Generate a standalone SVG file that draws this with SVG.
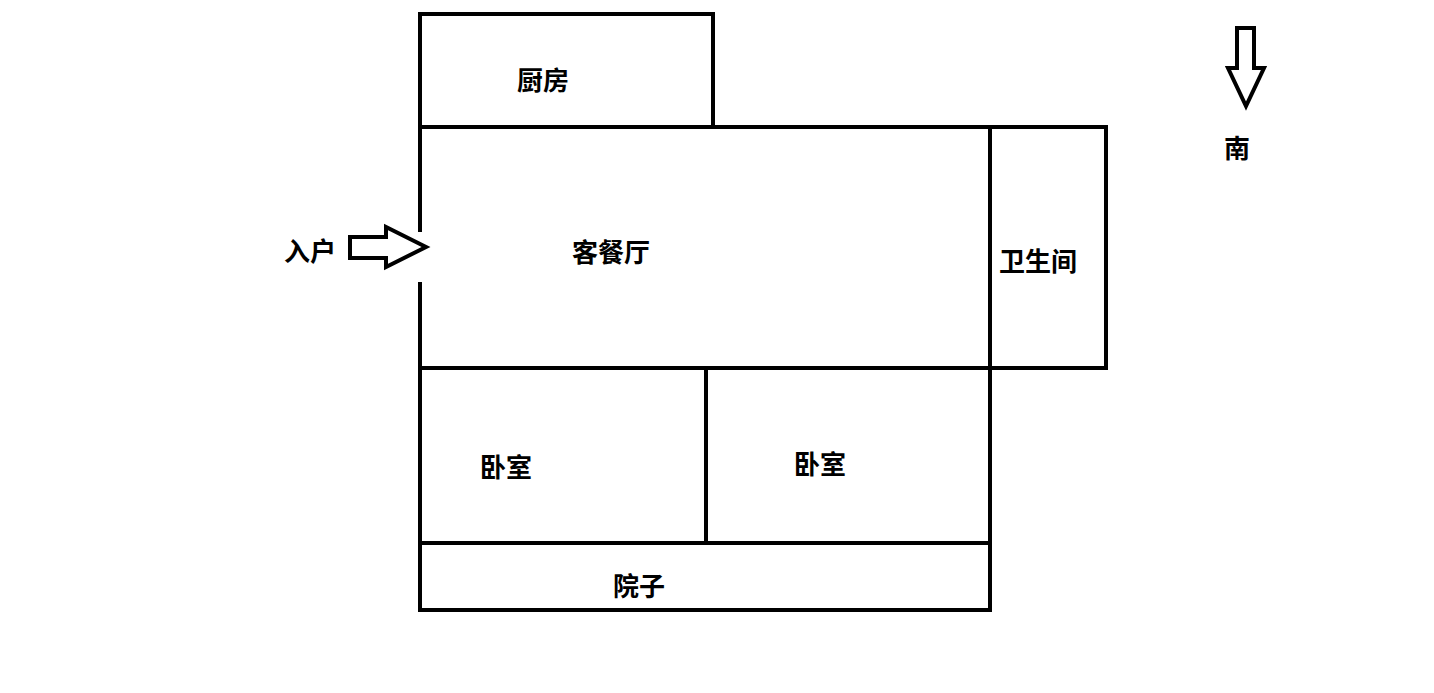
<svg xmlns="http://www.w3.org/2000/svg" width="1434" height="693" viewBox="0 0 1434 693">
<style>
.w{fill:none;stroke:#000;stroke-width:4}
.t{font-family:"Liberation Sans","Noto Sans CJK SC",sans-serif;font-weight:bold;font-size:26px;fill:#000}
</style>
<rect width="1434" height="693" fill="#fff"/>
<rect class="w" x="420" y="14" width="293" height="113"/>
<path class="w" d="M420,232 V127 H990 V368 H420 V282"/>
<rect class="w" x="990" y="127" width="116" height="241"/>
<rect class="w" x="420" y="368" width="570" height="175"/>
<line class="w" x1="706" y1="368" x2="706" y2="543"/>
<rect class="w" x="420" y="543" width="570" height="67"/>
<path class="w" stroke-width="3.5" d="M350,237 H386 V227 L426,247 L386,267 V258 H350 Z"/>
<path class="w" stroke-width="3.5" d="M1237,28 H1254 V68 H1264 L1246,106 L1228,68 H1237 Z"/>
<text class="t" x="517" y="90">厨房</text>
<text class="t" x="572" y="262">客餐厅</text>
<text class="t" x="284" y="261">入户</text>
<text class="t" x="999" y="271">卫生间</text>
<text class="t" x="1224" y="158">南</text>
<text class="t" x="480" y="477">卧室</text>
<text class="t" x="794" y="474">卧室</text>
<text class="t" x="613" y="596">院子</text>
</svg>
